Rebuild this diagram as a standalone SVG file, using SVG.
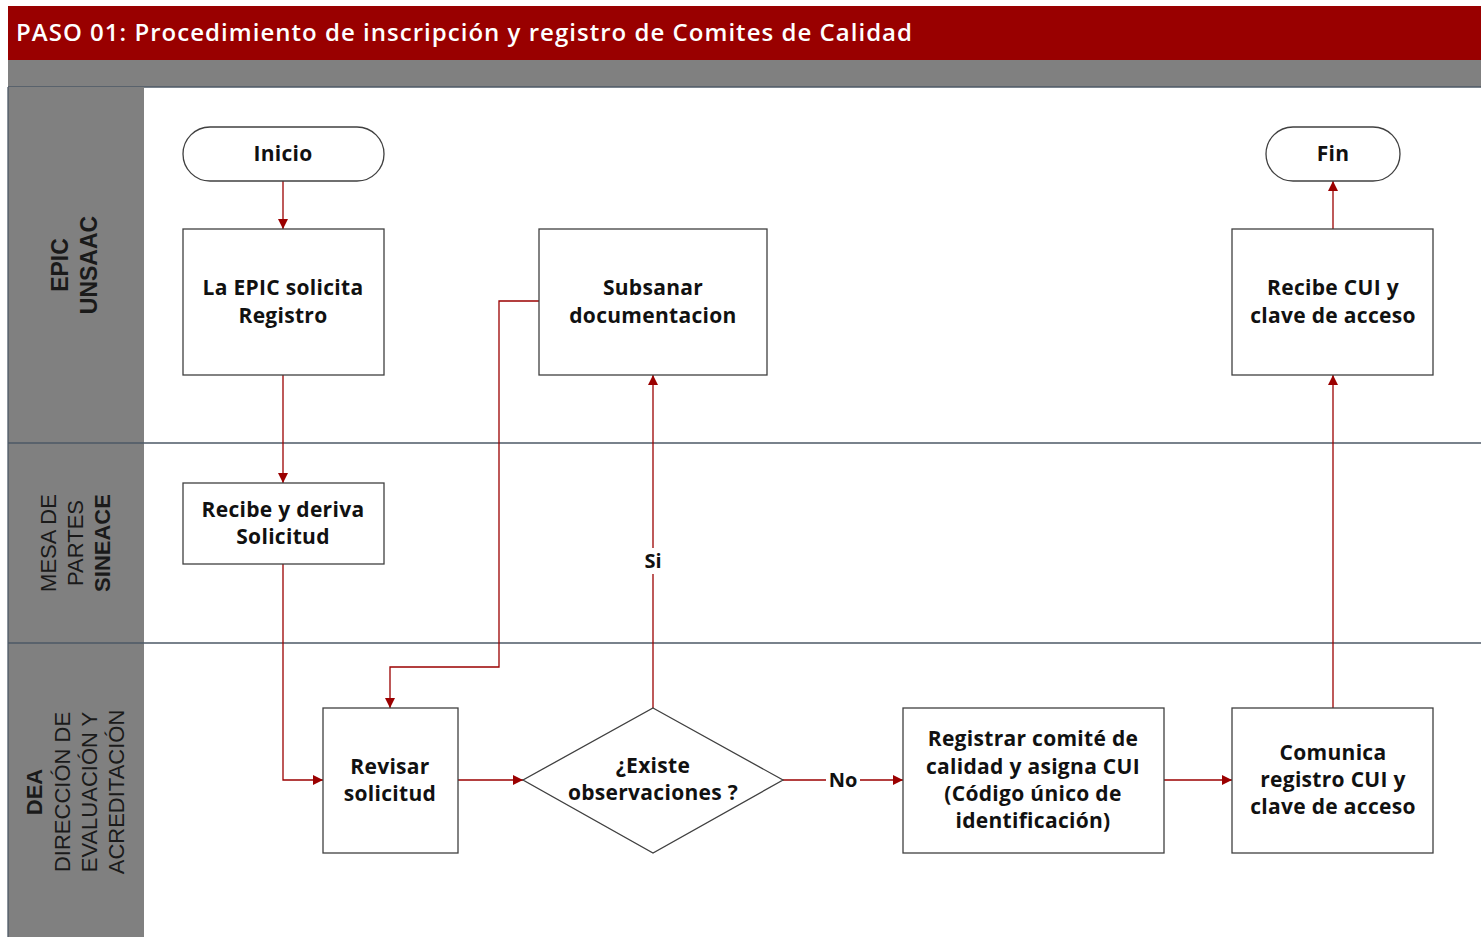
<svg xmlns="http://www.w3.org/2000/svg" width="1481" height="937" viewBox="0 0 1481 937">
<style>
.lane{fill:#808080;}
.sep{stroke:#4d5966;stroke-width:1.3;fill:none;}
.node{fill:#fff;stroke:#404040;stroke-width:1.3;}
.t{font-family:"Open Sans","Liberation Sans",sans-serif;font-weight:700;font-size:21px;letter-spacing:0.3px;fill:#111;text-anchor:middle;}
.lt{font-family:"Liberation Sans",Arial,sans-serif;font-size:23px;fill:#1a1a1a;text-anchor:middle;}
.b{font-weight:bold;}
.c{stroke:#9b0000;stroke-width:1.3;fill:none;}
.lbl{font-family:"Open Sans","Liberation Sans",sans-serif;font-weight:700;font-size:20px;fill:#111;text-anchor:middle;}
</style>
<defs>
<marker id="ah" viewBox="0 0 10 10" refX="10" refY="5" markerWidth="10" markerHeight="10" markerUnits="userSpaceOnUse" orient="auto">
<path d="M0,0 L10,5 L0,10 z" fill="#9b0000"/>
</marker>
</defs>
<rect x="0" y="0" width="1481" height="937" fill="#fff"/>
<g id="header">
<rect x="8" y="6" width="1473" height="54" fill="#990000"/>
<text x="16" y="41" font-family="Open Sans,Liberation Sans,sans-serif" font-weight="600" font-size="24" fill="#fff" textLength="896" lengthAdjust="spacing">PASO 01: Procedimiento de inscripción y registro de Comites de Calidad</text>
<rect x="8" y="60" width="1473" height="27" fill="#808080"/>
<line x1="8" y1="87" x2="1481" y2="87" class="sep"/>
</g>
<g id="lanes">
<rect x="8" y="87" width="136" height="850" class="lane"/>
<line x1="8" y1="87" x2="8" y2="937" class="sep"/>
<line x1="8" y1="443" x2="1481" y2="443" class="sep"/>
<line x1="8" y1="643" x2="1481" y2="643" class="sep"/>
<text class="lt b" transform="translate(68,265) rotate(-90)">EPIC</text>
<text class="lt b" transform="translate(97,265) rotate(-90)">UNSAAC</text>
<text class="lt" transform="translate(56,543) rotate(-90)" style="font-size:22px">MESA DE</text>
<text class="lt" transform="translate(83,543) rotate(-90)" style="font-size:22px">PARTES</text>
<text class="lt b" transform="translate(110,543) rotate(-90)" style="font-size:22px">SINEACE</text>
<text class="lt b" transform="translate(42,792) rotate(-90)" style="font-size:22px">DEA</text>
<text class="lt" transform="translate(70,792) rotate(-90)" style="font-size:22px">DIRECCIÓN DE</text>
<text class="lt" transform="translate(97,792) rotate(-90)" style="font-size:22px">EVALUACIÓN Y</text>
<text class="lt" transform="translate(124,792) rotate(-90)" style="font-size:22px">ACREDITACIÓN</text>
</g>
<g id="connectors">
<path class="c" d="M283,181 V229" marker-end="url(#ah)"/>
<path class="c" d="M283,375 V483" marker-end="url(#ah)"/>
<path class="c" d="M283,564 V780 H323" marker-end="url(#ah)"/>
<path class="c" d="M539,301 H499 V667 H390 V708" marker-end="url(#ah)"/>
<path class="c" d="M458,780 H523" marker-end="url(#ah)"/>
<path class="c" d="M653,708 V375" marker-end="url(#ah)"/>
<path class="c" d="M783,780 H903" marker-end="url(#ah)"/>
<path class="c" d="M1164,780 H1232" marker-end="url(#ah)"/>
<path class="c" d="M1333,708 V375" marker-end="url(#ah)"/>
<path class="c" d="M1333,229 V181" marker-end="url(#ah)"/>
<rect x="640" y="548" width="26" height="26" fill="#fff"/>
<text class="lbl" x="653" y="568">Si</text>
<rect x="826" y="767" width="34" height="26" fill="#fff"/>
<text class="lbl" x="843" y="787">No</text>
</g>
<g id="inicio">
<rect class="node" x="183" y="127" width="201" height="54" rx="27"/>
<text class="t" x="283" y="161">Inicio</text>
</g>
<g id="solicita">
<rect class="node" x="183" y="229" width="201" height="146"/>
<text class="t" x="283" y="295">La EPIC solicita</text>
<text class="t" x="283" y="323">Registro</text>
</g>
<g id="subsanar">
<rect class="node" x="539" y="229" width="228" height="146"/>
<text class="t" x="653" y="295">Subsanar</text>
<text class="t" x="653" y="323">documentacion</text>
</g>
<g id="fin">
<rect class="node" x="1266" y="127" width="134" height="54" rx="27"/>
<text class="t" x="1333" y="161">Fin</text>
</g>
<g id="recibecui">
<rect class="node" x="1232" y="229" width="201" height="146"/>
<text class="t" x="1333" y="295">Recibe CUI y</text>
<text class="t" x="1333" y="323">clave de acceso</text>
</g>
<g id="deriva">
<rect class="node" x="183" y="483" width="201" height="81"/>
<text class="t" x="283" y="517">Recibe y deriva</text>
<text class="t" x="283" y="544">Solicitud</text>
</g>
<g id="revisar">
<rect class="node" x="323" y="708" width="135" height="145"/>
<text class="t" x="390" y="774">Revisar</text>
<text class="t" x="390" y="801">solicitud</text>
</g>
<g id="existe">
<polygon class="node" points="653,708 783,780 653,853 523,780"/>
<text class="t" x="653" y="773">¿Existe</text>
<text class="t" x="653" y="800">observaciones ?</text>
</g>
<g id="registrar">
<rect class="node" x="903" y="708" width="261" height="145"/>
<text class="t" x="1033" y="746">Registrar comité de</text>
<text class="t" x="1033" y="774">calidad y asigna CUI</text>
<text class="t" x="1033" y="801">(Código único de</text>
<text class="t" x="1033" y="828">identificación)</text>
</g>
<g id="comunica">
<rect class="node" x="1232" y="708" width="201" height="145"/>
<text class="t" x="1333" y="760">Comunica</text>
<text class="t" x="1333" y="787">registro CUI y</text>
<text class="t" x="1333" y="814">clave de acceso</text>
</g>
</svg>
